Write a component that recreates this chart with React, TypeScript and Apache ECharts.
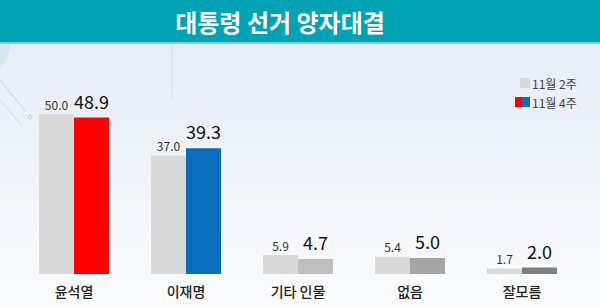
import React, { useEffect, useRef } from "react";
import * as echarts from "echarts";

const TITLE = "대통령 선거 양자대결";
const categories = ["윤석열", "이재명", "기타 인물", "없음", "잘모름"];
const seriesNames = ["11월 2주", "11월 4주"];
const week2Values = [50.0, 37.0, 5.9, 5.4, 1.7];
const week4Values = [48.9, 39.3, 4.7, 5.0, 2.0];
const week2Colors = ["#d9d9d9", "#d9d9d9", "#d9d9d9", "#d9d9d9", "#d7dbda"];
const week4Colors = ["#ff0000", "#0a6ebd", "#bfbfbf", "#a5a5a5", "#7b8081"];

const FONT = "'Noto Sans CJK KR', 'Noto Sans', sans-serif";

export default function App() {
  const ref = useRef<HTMLDivElement>(null);
  useEffect(() => {
    if (!ref.current) return;
    const chart = echarts.init(ref.current, null, { renderer: "svg" });
    chart.setOption({
      animation: false,
      backgroundColor: {
        type: "linear",
        x: 0,
        y: 0,
        x2: 0,
        y2: 1,
        colorStops: [
          { offset: 0, color: "#e3eaf6" },
          { offset: 0.5, color: "#eef2f9" },
          { offset: 1, color: "#fbfcfe" },
        ],
      },
      textStyle: { fontFamily: FONT },
      graphic: [
        // decorative background
        {
          type: "circle",
          silent: true,
          shape: { cx: -20, cy: 45, r: 30 },
          style: { fill: "rgba(190,215,235,0.35)" },
        },
        {
          type: "line",
          silent: true,
          shape: { x1: 0, y1: 80, x2: 26, y2: 112 },
          style: { stroke: "rgba(160,195,225,0.6)", lineWidth: 1 },
        },
        {
          type: "line",
          silent: true,
          shape: { x1: 0, y1: 100, x2: 22, y2: 126 },
          style: { stroke: "rgba(160,195,225,0.5)", lineWidth: 1 },
        },
        {
          type: "circle",
          silent: true,
          shape: { cx: 30, cy: 117, r: 2 },
          style: { fill: "none", stroke: "rgba(160,195,225,0.7)", lineWidth: 1 },
        },
        {
          type: "line",
          silent: true,
          shape: { x1: 172, y1: 44, x2: 172, y2: 100 },
          style: { stroke: "rgba(200,220,235,0.8)", lineWidth: 1 },
        },
        // title bar
        {
          type: "rect",
          silent: true,
          shape: { x: 0, y: 0, width: 600, height: 42 },
          style: { fill: "#00a3b4" },
        },
        {
          type: "rect",
          silent: true,
          shape: { x: 0, y: 42, width: 600, height: 2 },
          style: { fill: "#7fd0d8" },
        },
        {
          type: "text",
          x: 280,
          y: 21,
          style: {
            text: TITLE,
            fill: "#ffffff",
            font: `bold 24px ${FONT}`,
            align: "center",
            verticalAlign: "middle",
          },
        },
        // legend
        {
          type: "rect",
          shape: { x: 520, y: 78, width: 10, height: 10 },
          style: { fill: week2Colors[0] },
        },
        {
          type: "text",
          x: 532,
          y: 83,
          style: {
            text: seriesNames[0],
            fill: "#444",
            font: `12px ${FONT}`,
            verticalAlign: "middle",
          },
        },
        {
          type: "rect",
          shape: { x: 515, y: 97, width: 7, height: 10 },
          style: { fill: week4Colors[0] },
        },
        {
          type: "rect",
          shape: { x: 522, y: 97, width: 8, height: 10 },
          style: { fill: week4Colors[1] },
        },
        {
          type: "text",
          x: 532,
          y: 102,
          style: {
            text: seriesNames[1],
            fill: "#444",
            font: `12px ${FONT}`,
            verticalAlign: "middle",
          },
        },
      ],
      grid: { left: 18, right: 22, top: 82, bottom: 33 },
      xAxis: {
        type: "category",
        data: categories,
        axisLine: { show: false },
        axisTick: { show: false },
        axisLabel: {
          margin: 10,
          fontSize: 14,
          color: "#222",
          fontFamily: FONT,
          fontWeight: 500,
        },
      },
      yAxis: {
        type: "value",
        min: 0,
        max: 60,
        show: false,
        splitLine: { show: false },
      },
      series: [
        {
          name: seriesNames[0],
          type: "bar",
          barWidth: 35,
          barGap: "0%",
          data: week2Values.map((v, i) => ({
            value: v,
            itemStyle: { color: week2Colors[i] },
          })),
          label: {
            show: true,
            position: "top",
            distance: 4,
            fontSize: 12,
            color: "#333",
            fontFamily: FONT,
            formatter: (p: any) => Number(p.value).toFixed(1),
          },
        },
        {
          name: seriesNames[1],
          type: "bar",
          barWidth: 35,
          barGap: "0%",
          data: week4Values.map((v, i) => ({
            value: v,
            itemStyle: { color: week4Colors[i] },
          })),
          label: {
            show: true,
            position: "top",
            distance: 8,
            fontSize: 18,
            color: "#111",
            fontFamily: FONT,
            formatter: (p: any) => Number(p.value).toFixed(1),
          },
        },
      ],
    });
    return () => chart.dispose();
  }, []);
  return (
    <div
      ref={ref}
      style={{ position: "fixed", left: 0, top: 0, width: 600, height: 307 }}
    />
  );
}
